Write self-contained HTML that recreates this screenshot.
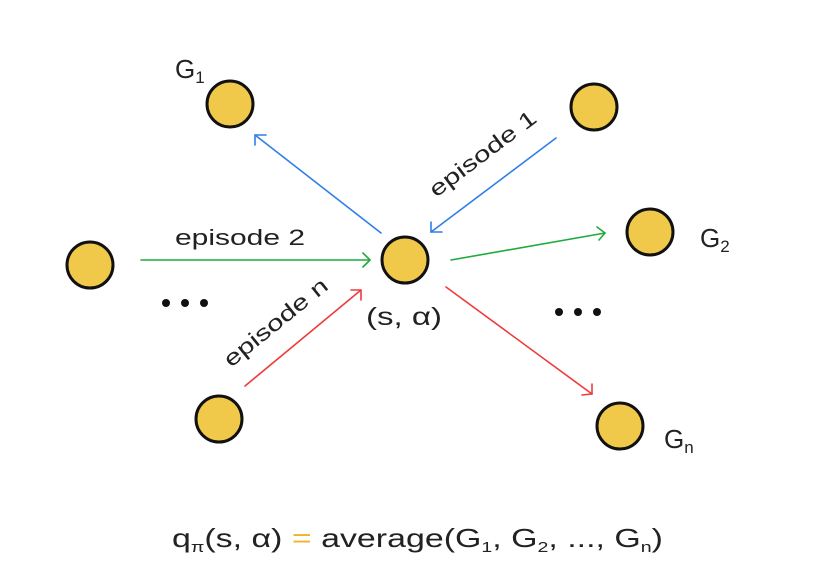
<!DOCTYPE html>
<html><head><style>
html,body{margin:0;padding:0;background:#fff;}
svg{display:block;font-family:"Liberation Sans",sans-serif;}
</style></head><body>
<svg width="839" height="564" viewBox="0 0 839 564" xmlns="http://www.w3.org/2000/svg">
<rect width="839" height="564" fill="#fff"/>
<g fill="#f0c84a" stroke="#111" stroke-width="3">
<circle cx="230" cy="104" r="23"/>
<circle cx="594" cy="107" r="23"/>
<circle cx="90" cy="265" r="23"/>
<circle cx="405" cy="260" r="23"/>
<circle cx="650" cy="232" r="23"/>
<circle cx="219" cy="419" r="23"/>
<circle cx="620" cy="426" r="23"/>
</g>
<g fill="none" stroke-width="1.6" stroke-linecap="round" stroke-linejoin="round">
<g stroke="#2f7fe6">
<line x1="381" y1="233" x2="255" y2="135"/><polyline points="255,145 255,135 266,135"/>
<line x1="556" y1="138" x2="431" y2="232"/><polyline points="431,222 431,232 442,232"/>
</g>
<g stroke="#1faa3e">
<line x1="141" y1="260" x2="370" y2="260"/><polyline points="363,253 370,260 363,267"/>
<line x1="451" y1="260" x2="605" y2="233"/><polyline points="597,227 605,233 599,240"/>
</g>
<g stroke="#ee3b3b">
<line x1="245" y1="386" x2="361" y2="290"/><polyline points="351,290 361,290 361,300"/>
<line x1="446" y1="287" x2="592" y2="394"/><polyline points="592,384 592,394 582,395"/>
</g>
</g>
<g fill="#111">
<circle cx="166" cy="303" r="4"/><circle cx="185" cy="303" r="4"/><circle cx="204" cy="303" r="4"/>
<circle cx="559" cy="312" r="4"/><circle cx="578" cy="312" r="4"/><circle cx="597" cy="312" r="4"/>
</g>
<g fill="#222" font-size="26">
<text x="175" y="78">G<tspan font-size="17" dy="5">1</tspan></text>
<text x="700" y="247">G<tspan font-size="17" dy="5">2</tspan></text>
<text x="664" y="448">G<tspan font-size="17" dy="5">n</tspan></text>
<text x="366" y="325" font-size="25" textLength="76" lengthAdjust="spacingAndGlyphs">(s, α)</text>
<text x="175" y="245" font-size="22" textLength="130" lengthAdjust="spacingAndGlyphs">episode 2</text>
<text transform="translate(436,198) rotate(-37)" font-size="22" textLength="128" lengthAdjust="spacingAndGlyphs">episode 1</text>
<text transform="translate(231,368) rotate(-39)" font-size="22" textLength="127" lengthAdjust="spacingAndGlyphs">episode n</text>
<text x="172" y="547" font-size="26" textLength="491" lengthAdjust="spacingAndGlyphs">q<tspan font-size="15" dy="5">π</tspan><tspan dy="-5">(s, α) </tspan><tspan fill="#f0b429">=</tspan> average(G<tspan font-size="15" dy="5">1</tspan><tspan dy="-5">, G</tspan><tspan font-size="15" dy="5">2</tspan><tspan dy="-5">, ..., G</tspan><tspan font-size="15" dy="5">n</tspan><tspan dy="-5">)</tspan></text>
</g>
</svg>
</body></html>
